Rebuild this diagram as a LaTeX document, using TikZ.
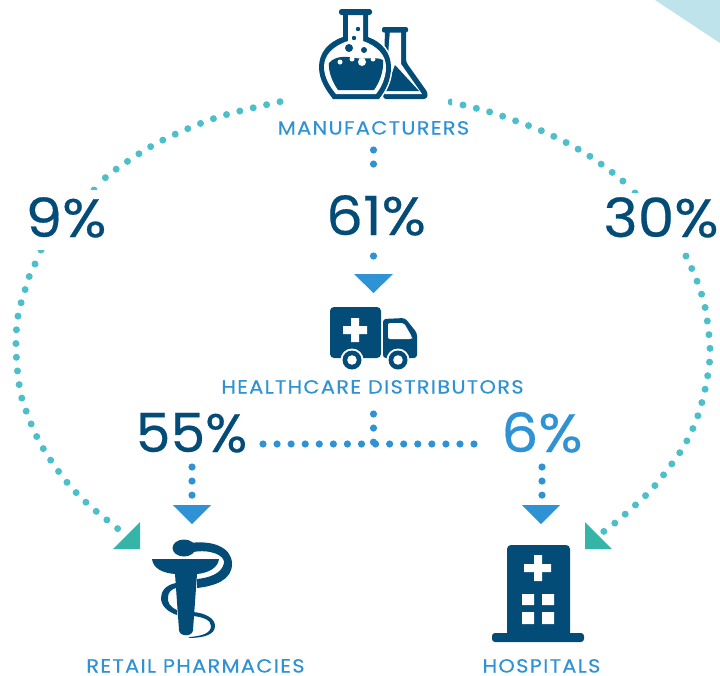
\documentclass[tikz,border=0pt]{standalone}
\usepackage{fontspec}
\setmainfont{Poppins}
\newfontfamily\lblfont[LetterSpace=7,FakeStretch=1.1,FakeBold=0.25]{Poppins}
\newfontfamily\pctfont[FakeStretch=1.08,FakeBold=0.4]{Poppins}
\definecolor{navy}{HTML}{034C78}
\definecolor{sky}{HTML}{2E92D4}
\definecolor{tealdot}{HTML}{4DBFCB}
\definecolor{teal2}{HTML}{35B5A7}
\definecolor{corner}{HTML}{BFE3EA}
\tikzset{
  pct/.style={inner sep=0pt,text=navy,text height=38pt,text depth=0pt,font=\pctfont\fontsize{54}{54}\selectfont},
  lbl/.style={inner sep=0pt,text=sky,text height=13pt,text depth=0pt,font=\lblfont\fontsize{19}{19}\selectfont},
  bluedots/.style={draw=sky,line width=7.2pt,line cap=round,dash pattern=on 0pt off 14.07pt},
  tealdots/.style={draw=tealdot,line width=7pt,line cap=round,dash pattern=on 0pt off 13.75pt},
  headblue/.style={fill=sky},
  headteal/.style={fill=teal2},
  icon/.style={fill=navy},
}
\begin{document}
\begin{tikzpicture}[x=1pt,y=-1pt]
\useasboundingbox (0,0) rectangle (720,675);
\fill[corner] (655,0) -- (720,43) -- (720,0) -- cycle;

% labels
\node[lbl] (mfg) at (373.5,128) {MANUFACTURERS};
\node[lbl] (dist) at (372.5,387) {HEALTHCARE DISTRIBUTORS};
\node[lbl] (pharm) at (195.5,666) {RETAIL PHARMACIES};
\node[lbl] (hosp) at (541.5,666) {HOSPITALS};
\node[pct] (p9) at (66,218) {9\%};
\node[pct] (p30) at (661,218) {30\%};
\node[pct] (p61) at (376,216) {61\%};
\node[pct] (p55) at (191.5,433) {\scalebox{.95}[1]{55\%}};
\node[pct,text=sky] (p6) at (542,433) {6\%};

% blue connectors
\coordinate (a1) at (373.5,150); \coordinate (a2) at (373.5,178);
\coordinate (a3) at (373.5,256); \coordinate (a4) at (373.5,268);
\coordinate (b1) at (373.5,414); \coordinate (b2) at (373.5,444);
\coordinate (h1) at (263,444); \coordinate (h2) at (474,444); \coordinate (h3) at (484,444);
\coordinate (c1) at (192,467); \coordinate (c2) at (192,497);
\coordinate (d1) at (542,467); \coordinate (d2) at (542,497);
\draw[bluedots] (a1) -- (a2);
\draw[bluedots] (a3) -- (a4);
\draw[bluedots] (b1) -- (b2);
\draw[bluedots] (h1) -- (h2);
\draw[bluedots] (h2) -- (h3);
\draw[bluedots] (c1) -- (c2);
\draw[bluedots] (d1) -- (d2);
\fill[headblue] (354,274) -- (393,274) -- (373.5,293) -- cycle;
\fill[headblue] (173,505) -- (211,505) -- (192,524) -- cycle;
\fill[headblue] (522,505) -- (560,505) -- (541,524) -- cycle;

% teal arcs
\draw[tealdots] plot[smooth,tension=.6] coordinates {(280,101.7) (226,114.7) (187,129) (150,147) (115,170) (104,179)};
\draw[tealdots] plot[smooth,tension=.6] coordinates {(35,264) (29,277) (25,290) (18,316) (16,349) (20,390) (28,416) (39,441) (54,465) (71,487) (90,506) (112,524) (123,533)};
\draw[tealdots] plot[smooth,tension=.6] coordinates {(463,105) (490,112) (516,121) (542,131) (567,143) (591,157) (613,173) (624,182)};
\draw[tealdots] plot[smooth,tension=.6] coordinates {(686,256) (697,281) (705,307) (709,335) (710,348) (709,367) (704,394) (696,421) (684,446) (668,469) (651,490) (631,509) (610,527) (598,535)};
\begin{scope}
\clip (85,175) rectangle (100,189);
\fill[tealdot] (94,190) circle[radius=3.5];
\end{scope}
\begin{scope}
\clip (30,250) rectangle (50,253.5);
\fill[tealdot] (41,250) circle[radius=3.5];
\end{scope}
\begin{scope}
\clip (448,95) rectangle (452,110);
\fill[tealdot] (451,102) circle[radius=3.5];
\end{scope}
\begin{scope}
\clip (625,185) rectangle (645,192);
\fill[tealdot] (635,193) circle[radius=3.5];
\end{scope}
\fill[headteal] (140,522) -- (140,549) -- (113,549) -- cycle;
\fill[headteal] (585,522) -- (585,549) -- (612,549) -- cycle;

% flasks
\fill[icon,rounded corners=3pt] (385,30) -- (406,30) -- (406,62) -- (428,93) -- (427,99) -- (383,99) -- cycle;
\fill[white] (390,30) -- (401,30) -- (401,64) -- (422,94) -- (385,94) -- cycle;
\fill[icon,rounded corners=2pt] (382,27) rectangle (408,32.5);
\fill[icon] (395,65) -- (419,91) -- (385,91) -- cycle;
\draw[white,line width=3pt,fill=white] (343,37) .. controls (328,42) and (319,53) .. (319,67) .. controls (319,80) and (326,90) .. (333,99) -- (379,99) .. controls (386,90) and (391,80) .. (391,67) .. controls (391,53) and (382,42) .. (368,37) -- cycle;
\fill[icon] (343,13) -- (343,37) .. controls (328,42) and (319,53) .. (319,67) .. controls (319,80) and (326,90) .. (333,99) -- (379,99) .. controls (386,90) and (391,80) .. (391,67) .. controls (391,53) and (382,42) .. (368,37) -- (368,13) -- cycle;
\fill[white] (348,13) -- (348,41) .. controls (333,46) and (324,55) .. (324,67) .. controls (324,78) and (331,88) .. (336,94) -- (376,94) .. controls (381,88) and (386,78) .. (386,67) .. controls (386,55) and (377,46) .. (363,41) -- (363,13) -- cycle;
\fill[icon,rounded corners=2.5pt] (339,9) rectangle (372,15);
\fill[icon] (329,63) .. controls (335,56) and (345,56) .. (355,58) .. controls (365,60) and (375,56) .. (383,60) .. controls (384,72) and (379,83) .. (374,90) -- (338,90) .. controls (333,83) and (328,72) .. (329,63) -- cycle;
\fill[white] (340,62) circle[radius=2.5] (352,59) circle[radius=2.5] (362,62) circle[radius=4] (373,59) circle[radius=2.5];
\fill[icon] (349,48) circle[radius=4] (364,50) circle[radius=3] (354,38) circle[radius=2.2] (358,29) circle[radius=2.2];

% ambulance
\fill[icon,rounded corners=4pt] (330,307) rectangle (381,358);
\fill[white] (343,326) rectangle (367,334) (351,318) rectangle (359,342);
\fill[icon,rounded corners=3pt] (383,319) -- (405,318) -- (417,333) -- (417,358) -- (383,358) -- cycle;
\fill[white,rounded corners=2pt] (388,323) -- (404,323) -- (412,337) -- (412,339) -- (388,339) -- cycle;
\fill[white] (352,360) circle[radius=11.5] (398,360) circle[radius=11.5];
\fill[icon] (352,360) circle[radius=9.5] (398,360) circle[radius=9.5];
\fill[white] (352,360) circle[radius=4.8] (398,360) circle[radius=4.8];

% caduceus
\fill[icon] (152,559) -- (219,559) .. controls (218,568) and (208,573) .. (197,574) -- (193,630) .. controls (193,637) and (179,637) .. (179,630) -- (175,574) .. controls (162,573) and (153,568) .. (152,559) -- cycle;
\fill[icon] (184,548) ellipse[x radius=11.5,y radius=8.5];
\fill[icon] (190,543) .. controls (212,540) and (232,547) .. (232,564) .. controls (232,580) and (215,586) .. (197,588) -- (197,579) .. controls (208,578) and (222,574) .. (224,563) .. controls (225,555) and (210,549) .. (193,552) -- cycle;
\fill[icon] (176,583) .. controls (165,585) and (161,592) .. (161,598) .. controls (161,606) and (168,612) .. (177,615) -- (177,610) .. controls (170,607) and (167,602) .. (168,597) .. controls (168,592) and (172,589) .. (176,588) -- cycle;
\fill[icon] (193,612) .. controls (205,613) and (215,618) .. (215,626) .. controls (215,635) and (203,638) .. (188,638) -- (190,637) .. controls (200,636) and (211,634) .. (211,626) .. controls (211,620) and (203,617) .. (193,616) -- cycle;

% hospital
\fill[icon,rounded corners=4pt] (507,545) -- (570,545) -- (570,640) -- (507,640) -- cycle;
\fill[icon,rounded corners=3pt] (492,642) -- (492,633) -- (584,633) -- (584,642) -- cycle;
\fill[white] (524,564) rectangle (551,572) (534,555) rectangle (542,581);
\fill[white] (522,594) rectangle (534,605) (542,594) rectangle (554,605) (522,612) rectangle (534,624) (542,612) rectangle (554,624);
\end{tikzpicture}
\end{document}
